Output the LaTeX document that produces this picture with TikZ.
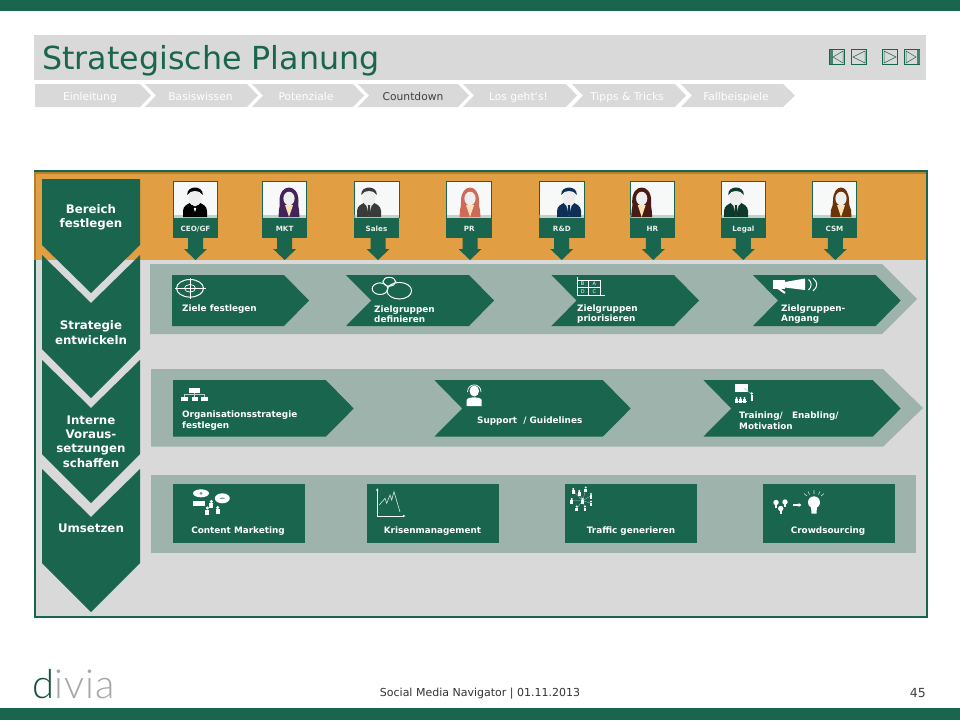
\documentclass[tikz,border=0pt]{standalone}
\usepackage{fontspec}
\usetikzlibrary{arrows.meta}
\setmainfont{DejaVu Sans}
\newfontfamily\logofont{Lato Light}
\definecolor{dgreen}{HTML}{19654D}
\definecolor{lgray}{HTML}{D9D9D9}
\definecolor{band}{HTML}{9DB3AB}
\definecolor{orangeb}{HTML}{E29E42}
\definecolor{brownb}{HTML}{B47F30}
\definecolor{faceg}{HTML}{EEEEEE}
\definecolor{necky}{HTML}{FBE3B4}
\definecolor{pMKT}{HTML}{43235A}
\definecolor{pPR}{HTML}{CF6A5B}
\definecolor{pHR}{HTML}{4A1A14}
\definecolor{pCSM}{HTML}{6B3308}
\definecolor{pRD}{HTML}{0F2F56}
\definecolor{pLegal}{HTML}{0D3A2A}
\definecolor{pSales}{HTML}{3A3A3A}
\newcommand{\fpx}[1]{\fontsize{#1}{#1}\selectfont}
\tikzset{
  x=1pt,y=-1pt,
  gshape/.style={fill=dgreen,draw=none},
  navshape/.style={fill=lgray,draw=none},
  bandshape/.style={fill=band,draw=none},
  navtxt/.style={text=white,font=\fpx{10.7},inner sep=0pt,anchor=base},
  navtxton/.style={navtxt,text=black!75},
  sidetxt/.style={text=white,font=\fontsize{11.8}{14.2}\selectfont\bfseries,align=center,inner sep=0pt},
  itemtxt/.style={text=white,font=\fontsize{8.85}{10.4}\selectfont\bfseries,align=left,anchor=west,inner sep=0pt},
  itemmid/.style={text=white,font=\fontsize{8.85}{10.4}\selectfont\bfseries,anchor=base,inner sep=0pt},
  cardtxt/.style={text=white!90!dgreen,font=\fpx{7.2}\bfseries,inner sep=0pt,anchor=base},
  wl/.style={draw=white,fill=none,line width=1pt},
  wt/.style={draw=white,fill=none,line width=0.5pt},
  wf/.style={fill=white,draw=none},
  navbtn/.style={draw=dgreen,fill=none,line width=1pt},
  navtri/.style={draw=dgreen,fill=none,line width=0.5pt},
}
% card: left, right, arrow centre, label, node name
\newcommand{\card}[5]{%
  \fill[white!96!dgreen] (#1,181.5) rectangle (#2,218);
  \draw[dgreen,line width=0.8pt] (#1,218) -- (#1,181.5) -- (#2,181.5) -- (#2,218);
  \fill[dgreen!45,opacity=.6] (#1+.4,214.5) rectangle (#2-.4,217.5);
  \fill[gshape] (#1-.4,217.5) rectangle (#2+.4,238);
  \node[cardtxt] (#5) at ({(#1+#2)/2},231) {#4};
  \fill[gshape] (#3-7.5,238) -- (#3+7.5,238) -- (#3+7.5,249) -- (#3+11.5,249) -- (#3,260) -- (#3-11.5,249) -- (#3-7.5,249) -- cycle;
}
\newcommand{\man}[3]{% cx, colour, shirt depth
  \begin{scope}[shift={(#1,0)}]
  \fill[#2] (-12,217) -- (-12,211) .. controls (-12,205.5) and (-7,204) .. (-3,202) -- (3,202) .. controls (7,204) and (12,205.5) .. (12,211) -- (12,217) -- cycle;
  \fill[white] (-3.2,203) -- (3.2,203) -- (0,#3) -- cycle;
  \fill[faceg] (0,198.5) ellipse [x radius=6.3,y radius=7.8];
  \fill[#2] (-7.8,195) .. controls (-8.5,185) and (8.5,185) .. (7.8,195) .. controls (5,189.5) and (-5,189.5) .. cycle;
  \end{scope}}
\newcommand{\tie}[2]{\fill[#2] (#1-1.1,205) -- (#1+1.1,205) -- (#1+1.5,213) -- (#1,216.5) -- (#1-1.5,213) -- cycle;}
\newcommand{\woman}[3]{% cx, hair/body colour, half width of hair
  \begin{scope}[shift={(#1,0)}]
  \fill[#2] (-10.5,217) -- (-10,210) .. controls (-9,206.5) and (-#3,206) .. (-#3,201) .. controls (-#3,183) and (#3,183) .. (#3,201) .. controls (#3,206) and (9,206.5) .. (10,210) -- (10.5,217) -- cycle;
  \fill[necky] (-4,205) -- (4,205) -- (0,217) -- cycle;
  \fill[faceg] (0,198.5) ellipse [x radius=5.6,y radius=6.8];
  \end{scope}}
\newcommand{\pawn}[3]{% small figure: x, y, scale
  \fill[white] (#1,#2) circle [radius=#3*.9];
  \fill[white] (#1-#3*1.1,#2+#3*1) rectangle (#1+#3*1.1,#2+#3*3.6);}
\begin{document}
\begin{tikzpicture}
\useasboundingbox (0,0) rectangle (960,720);
\fill[white] (0,0) rectangle (960,720);
% bars
\fill[gshape] (0,0) rectangle (960,11);
\fill[gshape] (0,708) rectangle (960,720);
% title
\fill[lgray] (34,35) rectangle (926,80);
\node[anchor=base west,inner sep=0pt,text=dgreen,font=\fpx{31.7}] (title) at (42,69) {Strategische Planung};
% nav buttons
\draw[navbtn] (829.5,49.5) rectangle (844.5,64.5);
\fill[dgreen!80] (830,50) rectangle (832.5,64);
\draw[navtri] (843,51) -- (833,57) -- (843,63) -- cycle;
\draw[navbtn] (851.5,49.5) rectangle (866.5,64.5);
\draw[navtri] (865,51) -- (853,57) -- (865,63) -- cycle;
\draw[navbtn] (882.5,49.5) rectangle (897.5,64.5);
\draw[navtri] (884,51) -- (896,57) -- (884,63) -- cycle;
\draw[navbtn] (904.5,49.5) rectangle (919.5,64.5);
\fill[dgreen!80] (917,50) rectangle (919.5,64);
\draw[navtri] (906,51) -- (916,57) -- (906,63) -- cycle;
% breadcrumb
\fill[navshape] (35,84) -- (140,84) -- (151,95.5) -- (140,107) -- (35,107) -- cycle;
\fill[navshape] (145,84) -- (247,84) -- (258,95.5) -- (247,107) -- (145,107) -- (156,95.5) -- cycle;
\fill[navshape] (252,84) -- (353,84) -- (364,95.5) -- (353,107) -- (252,107) -- (263,95.5) -- cycle;
\fill[navshape] (358,84) -- (458,84) -- (469,95.5) -- (458,107) -- (358,107) -- (369,95.5) -- cycle;
\fill[navshape] (463,84) -- (566,84) -- (577,95.5) -- (566,107) -- (463,107) -- (474,95.5) -- cycle;
\fill[navshape] (572,84) -- (675,84) -- (686,95.5) -- (675,107) -- (572,107) -- (583,95.5) -- cycle;
\fill[navshape] (681,84) -- (783,84) -- (795,95.5) -- (783,107) -- (681,107) -- (692,95.5) -- cycle;
\node[navtxt] (n1) at (90,100) {Einleitung};
\node[navtxt] (n2) at (200.5,100) {Basiswissen};
\node[navtxt] (n3) at (306,100) {Potenziale};
\node[navtxton] (n4) at (413,100) {Countdown};
\node[navtxt] (n5) at (518.5,100) {Los geht`s!};
\node[navtxt] (n6) at (627,100) {Tipps \& Tricks};
\node[navtxt] (n7) at (736,100) {Fallbeispiele};
% main frame
\fill[lgray] (35,171) rectangle (926,617);
\fill[orangeb] (34,172) rectangle (926,260);
\fill[brownb] (34,172) rectangle (926,173.5);
\draw[dgreen,line width=2pt] (35,171) rectangle (927,617);
\fill[brownb] (34,172) rectangle (36,260);
% left column
\fill[gshape] (42,179) -- (140,179) -- (140,245) -- (91,293) -- (42,245) -- cycle;
\fill[gshape] (42,255) -- (91,303) -- (140,255) -- (140,349) -- (91,398) -- (42,349) -- cycle;
\fill[gshape] (42,360) -- (91,408) -- (140,360) -- (140,454) -- (91,503) -- (42,454) -- cycle;
\fill[gshape] (42,469) -- (91,517) -- (140,469) -- (140,563) -- (91,612) -- (42,563) -- cycle;
\node[sidetxt] (s1) at (91,217) {Bereich\\festlegen};
\node[sidetxt] (s2) at (91,332.5) {Strategie\\entwickeln};
\node[sidetxt] (s3) at (91,441.5) {Interne\\Voraus-\\setzungen\\schaffen};
\node[sidetxt] (s4) at (91,528.5) {Umsetzen};
% cards
\card{173.3}{217.7}{195.5}{CEO/GF}{c1}
\card{262.5}{306.7}{284.7}{MKT}{c2}
\card{354}{399}{378}{Sales}{c3}
\card{446.7}{491.7}{470}{PR}{c4}
\card{539}{584.7}{561.7}{R\&D}{c5}
\card{630}{674.7}{653.3}{HR}{c6}
\card{721}{765.7}{743.3}{Legal}{c7}
\card{812.3}{856.7}{835.3}{CSM}{c8}
\man{195}{black}{212}
\fill[black] (192,205) -- (195,206.5) -- (198,205) -- (198,209) -- (195,207.5) -- (192,209) -- cycle;
\woman{289}{pMKT}{9.5}
\man{369}{pSales}{216}\tie{369}{pSales}
\woman{470}{pPR}{9}
\man{569}{pRD}{216}\tie{569}{pRD}
\woman{641.7}{pHR}{9.5}
\man{736}{pLegal}{216}\tie{736}{pLegal}
\woman{841}{pCSM}{8}
% row 1
\fill[bandshape] (150,264) -- (882,264) -- (917,299) -- (882,334) -- (150,334) -- cycle;
\fill[gshape] (172,275) -- (284,275) -- (309,300.5) -- (284,326) -- (172,326) -- cycle;
\fill[gshape] (346,275) -- (469,275) -- (494,300.5) -- (469,326) -- (346,326) -- (371.3,300.5) -- cycle;
\fill[gshape] (551.3,275) -- (674,275) -- (699,300.5) -- (674,326) -- (551.3,326) -- (576.7,300.5) -- cycle;
\fill[gshape] (753,275) -- (875.7,275) -- (900.7,300.5) -- (875.7,326) -- (753,326) -- (778,300.5) -- cycle;
\node[itemtxt] (i1) at (182,309) {Ziele festlegen};
\node[itemtxt] (i2) at (374,314.2) {Zielgruppen\\definieren};
\node[itemtxt] (i3) at (577,314.2) {Zielgruppen\\priorisieren};
\node[itemtxt] (i4) at (781,314.2) {Zielgruppen-\\Angang};
% target icon
\draw[wl] (190,288.3) ellipse [x radius=13.5,y radius=8.8];
\draw[wt,line width=.7pt] (190,288.3) ellipse [x radius=5.5,y radius=3.8];
\draw[wt,line width=.7pt] (175,288.3) -- (205.5,288.3) (190,278) -- (190,298.5);
% circles icon
\draw[wl] (380,288.7) ellipse [x radius=7.8,y radius=5.8];
\draw[wl] (389.3,281.7) ellipse [x radius=6.4,y radius=4.4];
\draw[wl] (399.3,290.7) ellipse [x radius=12.3,y radius=8.3];
% matrix icon
\draw[wt,line width=.7pt] (577,277) -- (577,295.5) -- (605,295.5);
\draw[wt,line width=.7pt] (577,280) rectangle (600,295);
\draw[wt,line width=.7pt] (588.5,280) -- (588.5,295) (577,287.5) -- (600,287.5);
\node[text=white,font=\fpx{5},inner sep=0pt] (ma) at (594.3,284) {A};
\node[text=white,font=\fpx{5},inner sep=0pt] (mb) at (582.7,284) {B};
\node[text=white,font=\fpx{5},inner sep=0pt] (mc) at (594.3,291.5) {C};
\node[text=white,font=\fpx{5},inner sep=0pt] (md) at (582.7,291.5) {D};
% megaphone icon
\fill[wf] (772.7,280) rectangle (785,288.5);
\fill[wf] (785,282) -- (805,278.5) -- (805,290) -- (785,287.5) -- cycle;
\draw[white,line width=2pt] (778,288) -- (785,293);
\draw[wl] (808.5,279.5) .. controls (812,282) and (812,287) .. (808.5,290);
\draw[wl] (813,278) .. controls (818,282) and (818,287) .. (813,291);
% row 2
\fill[bandshape] (151,369) -- (883,369) -- (923,408) -- (883,446.7) -- (151,446.7) -- cycle;
\fill[gshape] (173,380) -- (325.7,380) -- (353.7,408.5) -- (325.7,436.7) -- (173,436.7) -- cycle;
\fill[gshape] (434.3,380) -- (602.7,380) -- (630.7,408.5) -- (602.7,436.7) -- (434.3,436.7) -- (462.3,408.5) -- cycle;
\fill[gshape] (703.3,380) -- (872.7,380) -- (900.7,408.5) -- (872.7,436.7) -- (703.3,436.7) -- (731.3,408.5) -- cycle;
\node[itemtxt] (j1) at (182,420.5) {Organisationsstrategie\\[1pt]festlegen};
\node[itemtxt] (j2) at (477,421) {Support~ / Guidelines};
\node[itemtxt] (j3) at (739,420.5) {Training/~~ Enabling/\\[1pt]Motivation};
% org chart icon
\fill[wf] (189.3,388.3) rectangle (199.5,392.5);
\fill[wf] (181,396.7) rectangle (187.7,401);
\fill[wf] (191.7,396.7) rectangle (198.3,401);
\fill[wf] (201.3,396.7) rectangle (208,401);
\draw[white!70!dgreen,line width=.4pt] (194.5,392.5) -- (194.5,396.7) (184.3,396.7) -- (184.3,394.5) -- (204.6,394.5) -- (204.6,396.7);
% headset icon
\fill[wf] (474.3,391) ellipse [x radius=4.8,y radius=5.5];
\fill[wf] (466.7,406) -- (466.7,400) .. controls (467,396.5) and (481,396.5) .. (481.7,400) -- (481.7,406) -- cycle;
\draw[white,line width=.7pt] (467.5,392) .. controls (467.5,382.5) and (481,382.5) .. (481,392);
% training icon
\fill[wf] (735,384) rectangle (748.3,391.7);
\draw[white!60!dgreen,line width=.4pt] (744,388) -- (751,394);
\fill[wf] (751.7,393.5) circle [radius=1.4];
\fill[wf] (750.5,395) rectangle (753,400.5);
\pawn{736.5}{398}{1.3}\pawn{740.5}{398}{1.3}\pawn{744.5}{398}{1.3}
\draw[white,line width=.6pt] (735,401.5) -- (746.5,401.5);
% row 3
\fill[bandshape] (151,475) rectangle (916,553);
\fill[gshape] (173,484) rectangle (305,543);
\fill[gshape] (367,484) rectangle (499,543);
\fill[gshape] (565,484) rectangle (697,543);
\fill[gshape] (763,484) rectangle (895,543);
\node[itemmid] (k1) at (238,533.5) {Content Marketing};
\node[itemmid] (k2) at (432.5,533.5) {Krisenmanagement};
\node[itemmid] (k3) at (631,533.5) {Traffic generieren};
\node[itemmid] (k4) at (828,533.5) {Crowdsourcing};
% content icon
\fill[wf] (201,493.3) ellipse [x radius=8,y radius=4];
\fill[wf] (193.3,500.7) rectangle (205,506);
\fill[wf] (222.3,498.3) ellipse [x radius=7.5,y radius=5];
\fill[dgreen!60] (201,493.3) circle [radius=1.6];
\fill[dgreen!60] (222.3,498.3) ellipse [x radius=2.5,y radius=.7];
\pawn{211.3}{501.5}{1.9}\pawn{207.3}{508}{1.9}\pawn{217.7}{507.5}{1.9}
% crisis icon
\draw[white,line width=.9pt,-{Latex[length=2.5pt,width=2.5pt]}] (377.3,516) -- (377.3,488);
\draw[white,line width=.9pt,-{Latex[length=2.5pt,width=2.5pt]}] (377.3,516) -- (405.5,516);
\draw[white!85!dgreen,line width=.6pt] (379.3,505) -- (385,498.3) -- (386.7,503.3) -- (390,495) -- (391.7,500) -- (394,491.7) -- (400,512);
% traffic icon
\draw[white!60!dgreen,line width=.35pt] (582.7,500.7) -- (573.3,490.7) (582.7,500.7) -- (579.3,492.7) (582.7,500.7) -- (585.7,489.3) (582.7,500.7) -- (591,495.7) (582.7,500.7) -- (571.7,500.7) (582.7,500.7) -- (591,503.3) (582.7,500.7) -- (576.7,508.3) (582.7,500.7) -- (585,508.3);
\pawn{573.3}{489}{1.3}\pawn{579.3}{491}{1.3}\pawn{585.7}{487.5}{1.3}\pawn{591}{494}{1.3}
\pawn{571.7}{499}{1.3}\pawn{582.7}{499}{1.3}\pawn{591}{501.5}{1.3}\pawn{576.7}{506.5}{1.3}\pawn{585}{506.5}{1.3}
% crowd icon
\foreach \a/\b in {776/502.5,785/502,780.7/508.5}{
  \fill[wf] (\a,\b) circle [radius=2.7];
  \fill[wf] (\a-1.1,\b+2) rectangle (\a+1.1,\b+5);
}
\draw[white,line width=1.3pt,-{Latex[length=3pt,width=4.5pt]}] (793.3,505) -- (801.5,505);
\fill[wf] (814,502.3) circle [radius=6];
\fill[wf] (811,506) -- (817,506) -- (816.5,513.5) -- (811.5,513.5) -- cycle;
\draw[white!80!dgreen,line width=.6pt] (814,494) -- (814,490) (807,496) -- (804,493.5) (821,496) -- (824,493.5) (809.5,494.5) -- (808,491.5) (818.5,494.5) -- (820,491.5);
% footer
\node[anchor=base west,inner sep=0pt,font=\logofont\fpx{40}] (logo) at (32,698) {\addfontfeature{LetterSpace=2.5}\textcolor{dgreen!80!black}{d}\textcolor{black!35}{ivia}};
\node[inner sep=0pt,font=\fpx{11},text=black!80] (foot) at (480,694) {Social Media Navigator | 01.11.2013};
\node[inner sep=0pt,font=\fpx{12.5},text=black!75,anchor=east] (page) at (926,693) {45};
\end{tikzpicture}
\end{document}
